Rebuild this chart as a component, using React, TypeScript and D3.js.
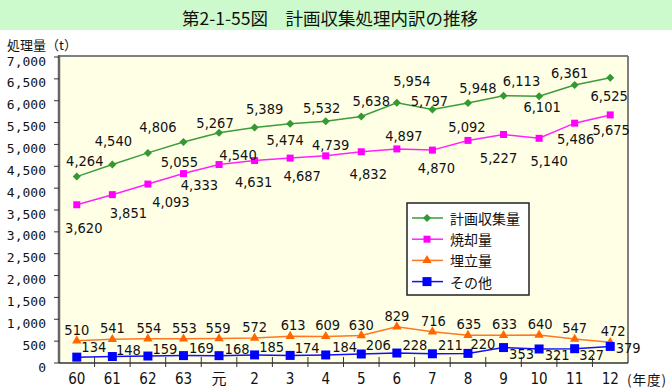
import * as d3 from "d3";

// 年度 categories
const years = ["60", "61", "62", "63", "元", "2", "3", "4", "5", "6", "7", "8", "9", "10", "11", "12"];

// series values (t)
const planned = [4264, 4540, 4806, 5055, 5267, 5389, 5474, 5532, 5638, 5954, 5797, 5948, 6113, 6101, 6361, 6525];
const burned = [3620, 3851, 4093, 4333, 4540, 4631, 4687, 4739, 4832, 4897, 4870, 5092, 5227, 5140, 5486, 5675];
const landfill = [510, 541, 554, 553, 559, 572, 613, 609, 630, 829, 716, 635, 633, 640, 547, 472];
const other = [134, 148, 159, 169, 168, 185, 174, 184, 206, 228, 211, 220, 353, 321, 327, 379];

const yTicks = [0, 500, 1000, 1500, 2000, 2500, 3000, 3500, 4000, 4500, 5000, 5500, 6000, 6500, 7000];

// where each value label sits relative to its point [dx, dy]
const plannedLabelPos = [[8, -16], [1, -24], [10, -26], [-4, 20], [-4, -10], [10, -18], [-5, 16], [-4, -13], [10, -16], [15, -22], [-3, -9], [10, -15], [18, -15], [3, 11], [-5, -12], [-1, 18]];
const burnedLabelPos = [[7, 23], [16, 18], [23, 18], [16, 11], [19, -10], [-1, 21], [12, 18], [5, -11], [7, 22], [7, -13], [4, 18], [-1, -13], [-5, 23], [10, 23], [1, 16], [1, 15]];
const landfillLabelPos = [[0, -11], [0, -11], [1, -11], [1, -11], [-1, -11], [0, -11], [3, -11], [2, -11], [0, -10], [0, -11], [1, -11], [1, -11], [1, -11], [1, -11], [0, -11], [3, -11]];
const otherLabelPos = [[17, -10], [16, -7], [17, -7], [18, -8], [18, -7], [17, -8], [17, -7], [19, -8], [17, -9], [18, -8], [18, -9], [15, -9], [18, 6], [18, 6], [17, 6], [18, 2]];

const W = 672, H = 389;
const left = 59, right = 628, top = 56, bottom = 363;

const numFont = "'Liberation Sans Narrow', 'DejaVu Sans Condensed', 'Noto Sans CJK JP', sans-serif";
const jpFont = "'Noto Sans CJK JP', sans-serif";

const fmt = d3.format(",");

export default function App() {
  const x = d3.scaleBand<string>().domain(years).range([left, right]).padding(0);
  const y = d3.scaleLinear().domain([0, 7000]).range([bottom, 57]);
  const cx = (i: number) => (x(years[i]) as number) + x.bandwidth() / 2;

  const series = [
    { name: "計画収集量", values: planned, pos: plannedLabelPos, line: "#3d9b3d", fill: "#339933", sym: d3.symbolSquare, size: 32, rot: 45 },
    { name: "焼却量", values: burned, pos: burnedLabelPos, line: "#ff22ff", fill: "#ff00ff", sym: d3.symbolSquare, size: 49, rot: 0 },
    { name: "埋立量", values: landfill, pos: landfillLabelPos, line: "#ff7722", fill: "#ff6600", sym: d3.symbolTriangle, size: 38, rot: 0 },
    { name: "その他", values: other, pos: otherLabelPos, line: "#1010ff", fill: "#0000ff", sym: d3.symbolSquare, size: 81, rot: 0 },
  ];

  const line = d3.line<number>().x((_, i) => cx(i)).y(d => y(d));

  return (
    <svg width={W} height={H} style={{ position: "absolute", left: 0, top: 0, background: "#fff" }}>
      {/* title band */}
      <rect x={0} y={0} width={W} height={30} fill="#ccfacc" />
      <text x={330} y={17} textAnchor="middle" dominantBaseline="central" fontFamily={jpFont} fontSize={17.5} fill="#111">
        第2-1-55図　計画収集処理内訳の推移
      </text>
      <text x={7} y={44} dominantBaseline="central" fontFamily={jpFont} fontSize={13} fill="#111">処理量（t）</text>

      {/* plot area */}
      <rect x={left} y={top} width={right - left} height={bottom - top} fill="#ffffe6" />
      <line x1={left} x2={right} y1={top} y2={top} stroke="#808080" strokeWidth={2} />
      <line x1={right} x2={right} y1={top} y2={bottom} stroke="#808080" strokeWidth={2} />
      <line x1={left} x2={left} y1={top - 1} y2={bottom} stroke="#666" strokeWidth={2.5} />
      <line x1={left} x2={right} y1={bottom} y2={bottom} stroke="#333" strokeWidth={1.5} />

      {/* y axis */}
      {yTicks.map(t => (
        <g key={t}>
          <line x1={left - 5} x2={left} y1={y(t)} y2={y(t)} stroke="#333" />
          <text x={46} y={y(t) + 4} textAnchor="end" dominantBaseline="central" fontFamily="'DejaVu Sans Mono', monospace" fontSize={13} fill="#111">
            {fmt(t)}
          </text>
        </g>
      ))}

      {/* x axis */}
      {years.map((yr, i) => (
        <g key={yr}>
          {i > 0 && <line x1={x(yr)} x2={x(yr)} y1={bottom - 6} y2={bottom + 4} stroke="#333" />}
          <text x={cx(i)} y={379} textAnchor="middle" dominantBaseline="central" fontFamily={numFont} fontSize={15} fill="#111">{yr}</text>
        </g>
      ))}
      <text x={627} y={379} dominantBaseline="central" fontFamily={jpFont} fontSize={13.5} letterSpacing={1} fill="#111">(年度)</text>

      {/* series */}
      {series.map(s => (
        <g key={s.name}>
          <path d={line(s.values) as string} fill="none" stroke={s.line} strokeWidth={1.5} />
          {s.values.map((v, i) => (
            <path key={i} d={d3.symbol(s.sym, s.size)() as string}
              transform={`translate(${cx(i)},${y(v)}) rotate(${s.rot})`} fill={s.fill} />
          ))}
        </g>
      ))}
      {series.map(s => (
        <g key={s.name + "-lab"}>
          {s.values.map((v, i) => (
            <text key={i} x={cx(i) + s.pos[i][0]} y={y(v) + s.pos[i][1]} textAnchor="middle" dominantBaseline="central"
              fontFamily={numFont} fontSize={14.5} fill="#111">{fmt(v)}</text>
          ))}
        </g>
      ))}

      {/* legend */}
      <rect x={407} y={203} width={122} height={92} fill="#fff" stroke="#222" strokeWidth={1.5} />
      {series.map((s, i) => {
        const ly = 218 + i * 21.2;
        return (
          <g key={s.name + "-leg"}>
            <line x1={412} x2={443} y1={ly} y2={ly} stroke={s.line} strokeWidth={1.5} />
            <path d={d3.symbol(s.sym, s.size)() as string} transform={`translate(427,${ly}) rotate(${s.rot})`} fill={s.fill} />
            <text x={450} y={ly} dominantBaseline="central" fontFamily={jpFont} fontSize={14} fill="#111">{s.name}</text>
          </g>
        );
      })}
    </svg>
  );
}
